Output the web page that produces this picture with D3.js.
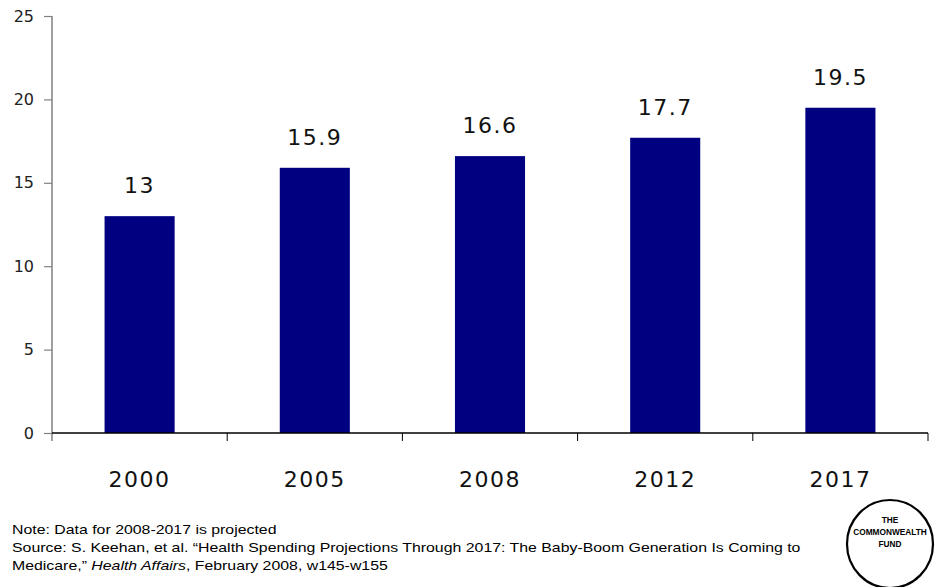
<!DOCTYPE html>
<html>
<head>
<meta charset="utf-8">
<script src="https://cdn.jsdelivr.net/npm/d3@7"></script>
<style>
  html, body { margin: 0; padding: 0; background: #fff; }
  svg { display: block; }
</style>
</head>
<body>
<svg id="chart" width="948" height="587"></svg>
<script>
// National health expenditures as a percent of GDP
const years = ["2000", "2005", "2008", "2012", "2017"];
const values = [13, 15.9, 16.6, 17.7, 19.5];
const yTicks = [0, 5, 10, 15, 20, 25];
const noteLines = [
  "Note: Data for 2008-2017 is projected",
  "Source: S. Keehan, et al. \u201cHealth Spending Projections Through 2017: The Baby-Boom Generation Is Coming to"
];
const logoLines = ["THE", "COMMONWEALTH", "FUND"];

const svg = d3.select("#chart");
const margin = { left: 52, top: 16 };
const plotW = 928 - margin.left;
const plotH = 433 - margin.top;

const g = svg.append("g").attr("transform", `translate(${margin.left},${margin.top})`);

const x = d3.scaleBand().domain(years).range([0, plotW]).paddingInner(0.6).paddingOuter(0.3);
const y = d3.scaleLinear().domain([0, 25]).range([plotH, 0]);

// bars
g.selectAll("rect.bar").data(values).join("rect")
  .attr("class", "bar")
  .attr("x", (d, i) => x(years[i]))
  .attr("y", d => y(d))
  .attr("width", x.bandwidth())
  .attr("height", d => plotH - y(d))
  .attr("fill", "#000080");

// value labels
g.selectAll("text.val").data(values).join("text")
  .attr("class", "val")
  .attr("x", (d, i) => x(years[i]) + x.bandwidth() / 2)
  .attr("y", d => y(d) - 23)
  .attr("text-anchor", "middle")
  .attr("font-family", "DejaVu Sans, Verdana, sans-serif")
  .attr("font-size", 22)
  .attr("letter-spacing", 1.5)
  .attr("fill", "#111")
  .text(d => d);

// y axis
const yAxis = g.append("g")
  .call(d3.axisLeft(y).tickValues(yTicks).tickSize(8).tickPadding(10).tickFormat(d3.format("d")));
yAxis.select(".domain").remove();
yAxis.selectAll(".tick line").attr("stroke", "#808080").attr("stroke-width", 1.2);
yAxis.selectAll(".tick text")
  .attr("font-family", "DejaVu Sans, Verdana, sans-serif")
  .attr("font-size", 16)
  .attr("fill", "#222");
g.append("line").attr("x1", 0).attr("x2", 0).attr("y1", 0).attr("y2", plotH + 8)
  .attr("stroke", "#808080").attr("stroke-width", 1.5);

// x axis
const xAxis = g.append("g").attr("transform", `translate(0,${plotH})`)
  .call(d3.axisBottom(x).tickSize(0).tickPadding(0));
xAxis.select(".domain").attr("d", `M0,0H${plotW}`).attr("stroke", "#000").attr("stroke-width", 1.3);
xAxis.selectAll(".tick text")
  .attr("y", 54)
  .attr("font-family", "DejaVu Sans, Verdana, sans-serif")
  .attr("font-size", 22)
  .attr("letter-spacing", 1.5)
  .attr("fill", "#111")
  .attr("dy", 0);
// category separators
const sepPos = d3.range(1, years.length + 1).map(i => i * plotW / years.length);
xAxis.selectAll("line.sep").data(sepPos).join("line")
  .attr("class", "sep")
  .attr("x1", d => d).attr("x2", d => d)
  .attr("y1", 0).attr("y2", 8)
  .attr("stroke", "#000").attr("stroke-width", 1);

// footnote (set in a horizontally widened Arial)
const foot = svg.append("g").attr("transform", "translate(12,0) scale(1.22,1)")
  .append("text")
  .attr("font-family", "Liberation Sans, Arial, sans-serif")
  .attr("font-size", 13)
  .attr("fill", "#000");
foot.append("tspan").attr("x", 0).attr("y", 534).text(noteLines[0]);
foot.append("tspan").attr("x", 0).attr("y", 552).text(noteLines[1]);
const l3 = foot.append("tspan").attr("x", 0).attr("y", 570);
l3.append("tspan").text("Medicare,\u201d ");
l3.append("tspan").attr("font-style", "italic").text("Health Affairs");
l3.append("tspan").text(", February 2008, w145-w155");

// logo
const logo = svg.append("g").attr("transform", "translate(890,544)");
logo.append("ellipse").attr("rx", 43).attr("ry", 44)
  .attr("fill", "#fff").attr("stroke", "#000").attr("stroke-width", 2.2);
logo.selectAll("text").data(logoLines).join("text")
  .attr("x", 0)
  .attr("y", (d, i) => -21 + i * 12)
  .attr("text-anchor", "middle")
  .attr("font-family", "Liberation Sans, Arial, sans-serif")
  .attr("font-weight", "bold")
  .attr("font-size", 8.3)
  .text(d => d);
</script>
</body>
</html>
